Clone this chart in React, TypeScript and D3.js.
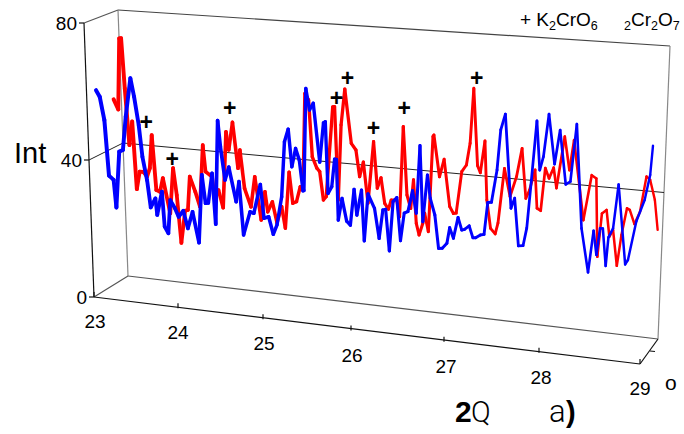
import React from "react";
import * as d3 from "d3";

const blueAngle = [23.00,23.04,23.09,23.14,23.19,23.22,23.25,23.29,23.32,23.37,23.41,23.46,23.50,23.55,23.59,23.64,23.66,23.71,23.74,23.78,23.80,23.85,23.89,23.94,23.99,24.04,24.11,24.14,24.18,24.21,24.25,24.29,24.31,24.34,24.39,24.43,24.51,24.54,24.59,24.66,24.70,24.77,24.81,24.86,24.91,24.95,25.00,25.03,25.07,25.11,25.15,25.19,25.23,25.24,25.26,25.30,25.34,25.41,25.45,25.47,25.50,25.54,25.57,25.59,25.61,25.65,25.70,25.74,25.78,25.81,25.86,25.89,25.93,26.00,26.05,26.09,26.12,26.16,26.20,26.24,26.28,26.32,26.36,26.41,26.45,26.49,26.52,26.57,26.60,26.65,26.69,26.73,26.78,26.81,26.85,26.90,26.94,26.97,27.02,27.06,27.09,27.14,27.18,27.22,27.26,27.32,27.36,27.41,27.47,27.51,27.55,27.60,27.64,27.69,27.75,27.78,27.82,27.88,27.94,28.00,28.06,28.11,28.18,28.23,28.30,28.36,28.39,28.43,28.46,28.49,28.52,28.57,28.63,28.70,28.73,28.82,28.91,28.97,29.00];
const blueInt = [57.9,56.1,49.4,33.2,32.1,24.1,40.6,41.2,51.1,62.6,57.3,49.1,39.9,33.2,25.3,28.1,23.3,30.3,20.1,18.3,28.1,25.9,23.5,25.4,20.4,25.4,16.6,36.6,28.4,28.6,37.4,22.6,53.1,45.5,35.9,39.8,29.9,35.9,20.4,27.4,27.1,35.8,26,26.6,21.6,24.5,32.9,49.2,53,42.1,47.6,44.3,35.4,35.5,65.6,59.4,61.5,44.4,56.1,56.5,35.5,37.6,45.8,45.8,28,34.5,28,26.9,37.6,30.1,37.6,22.8,36.7,32.7,24,32.5,32.8,20.7,35.3,36.6,24.1,32.3,32.9,39.2,32.7,52.7,30.4,44.3,37.6,32.8,23.1,23.3,24.9,29.6,26.6,32.9,29.3,29.6,30.8,27.4,27.5,28.5,28.8,38.3,38.5,48.2,60.1,64.9,37.4,40.5,26.6,26.8,32.1,46.4,64,49.6,53.7,66.4,51.9,62.1,46.3,47.3,64.4,33.9,21.2,33.6,26.6,34.6,34.6,23.7,32.2,35,48.1,24.8,26.2,37.8,44.4,52,60.7];
const redAngle = [23.19,23.24,23.25,23.27,23.31,23.36,23.39,23.44,23.47,23.51,23.55,23.58,23.60,23.65,23.69,23.72,23.80,23.83,23.87,23.92,23.96,23.99,24.01,24.07,24.12,24.15,24.18,24.25,24.28,24.32,24.37,24.40,24.43,24.47,24.53,24.55,24.60,24.67,24.71,24.78,24.82,24.85,24.90,24.95,25.00,25.04,25.08,25.12,25.16,25.20,25.23,25.25,25.29,25.33,25.38,25.41,25.45,25.48,25.55,25.57,25.61,25.64,25.68,25.75,25.80,25.84,25.88,25.93,25.99,26.03,26.07,26.11,26.15,26.18,26.24,26.27,26.31,26.35,26.39,26.42,26.45,26.48,26.52,26.54,26.58,26.63,26.64,26.70,26.75,26.81,26.85,26.88,26.94,26.99,27.03,27.07,27.11,27.14,27.19,27.21,27.25,27.30,27.33,27.40,27.46,27.53,27.59,27.63,27.67,27.73,27.75,27.79,27.84,27.88,27.93,27.96,28.05,28.10,28.15,28.25,28.34,28.39,28.40,28.45,28.50,28.53,28.57,28.61,28.66,28.72,28.75,28.80,28.86,28.93,28.97,29.02,29.05];
const redInt = [55.8,53,73.9,74,59.4,42.9,49.9,30.2,35.4,35.5,34.2,36.8,46.6,30.6,30.2,34.3,24.2,37.6,29.8,15.9,25.5,25.8,35.7,31.4,27.2,45.4,37.7,36.4,29.7,32.7,27.7,50.1,44.9,53.1,39.8,45.2,34.1,28.9,37.9,25.4,33.8,28,31.1,25.1,30,23.8,40.4,31.4,32,36.5,35.6,64.1,62.3,45.7,42.5,41.6,33.4,34.5,61.1,61.2,33.9,56.1,66.7,51,49.2,41.5,45.9,34,52.3,38.7,41.9,34.5,32.9,35.7,35.9,31.1,57.7,37.7,33.9,42.4,29.7,26.4,29.9,33,27.7,55.8,56.3,44.2,49.5,35.8,33.9,34.1,46.5,48.6,55.1,71.4,48.8,46.8,56.3,39,30.8,29.3,32.6,48.9,40.8,46.9,55.4,40.8,43.4,49.5,38.3,37.7,50.4,47.5,50.8,44.9,60.3,50.6,59.6,36.4,49.9,49.1,26.1,39,40.2,32.4,34.5,24.1,33.3,41.4,41,37,40.8,51.4,50.5,44.8,36.1];
const plusAngle = [23.54,23.82,24.44,25.59,25.71,25.99,26.32,27.10];
const plusInt = [50.2,40.3,57.2,63.9,70.1,56.3,63.2,74.6];
const xTicks = [23,24,25,26,27,28,29];
const yTicks = [0,40,80];

const F = "'Liberation Sans', Arial, sans-serif";
const BLUE = "#0000ff";
const RED = "#ff0000";
const GREY = "#777777";

// front-edge axis of the box
const frontX = d3.scaleLinear().domain(xTicks).range([94,178,263,351,444,539,640]);
const frontY = d3.scaleLinear().domain([23,29]).range([297,364]);
// front-left upright
const leftX = d3.scaleLinear().domain([0,80]).range([94,84]);
const leftY = d3.scaleLinear().domain([0,80]).range([297,23]);
// back wall
const backX = d3.scaleLinear().domain([23,29]).range([128,658]);
const backY = d3.scaleLinear().domain([23,29]).range([276,339]);
const backTopX = d3.scaleLinear().domain([23,29]).range([118,670]);
const backTopY = d3.scaleLinear().domain([23,29]).range([10,46]);
// plane of the two curves
const curveX = d3.scaleLinear().domain([23,29]).range([96,653]);
const curveBase = d3.scaleLinear().domain([23,29]).range([287,352]);
const curveHeight = d3.scaleLinear().domain([0,80]).range([0,272]);
const widthAt = d3.scaleLinear().domain([23,29]).range([4,2.4]);

const px = (t: number) => curveX(t);
const py = (t: number, v: number) => curveBase(t) - curveHeight(v);

function Series({ a, v, color }: { a: number[]; v: number[]; color: string }) {
  const line = d3.line<[number, number]>().x(d => px(d[0])).y(d => py(d[0], d[1]));
  const segs = d3.pairs(a.map((t, i) => [t, v[i]] as [number, number]));
  return (
    <g fill="none" stroke={color} strokeLinejoin="round" strokeLinecap="round">
      {segs.map((s, i) => (
        <path key={i} d={line(s) || ""} strokeWidth={widthAt(s[0][0])} />
      ))}
    </g>
  );
}

function L({ p, stroke = GREY, w = 1.2 }: { p: number[]; stroke?: string; w?: number }) {
  return <line x1={p[0]} y1={p[1]} x2={p[2]} y2={p[3]} stroke={stroke} strokeWidth={w} />;
}

export default function App() {
  const midT = 40;
  const backMid = (t: number) => backY(t) + (backTopY(t) - backY(t)) * (midT / 80);
  const midLeftX = backX(23) + (backTopX(23) - backX(23)) * 0.5;
  const midRightX = backX(29) + (backTopX(29) - backX(29)) * 0.5;
  return (
    <svg width={684} height={434} style={{ position: "absolute", left: 0, top: 0, background: "#fff" }}>
      {/* walls */}
      <L p={[backTopX(23), backTopY(23), backTopX(29), backTopY(29)]} stroke="#444" />
      <L p={[backX(23), backY(23), backX(29), backY(29)]} stroke="#555" />
      <L p={[backTopX(23), backTopY(23), backX(23), backY(23)]} stroke="#888" />
      <L p={[backTopX(29), backTopY(29), backX(29), backY(29)]} stroke="#888" />
      <L p={[leftX(80), leftY(80), backTopX(23), backTopY(23)]} stroke="#555" />
      <L p={[leftX(0), leftY(0), backX(23), backY(23)]} stroke="#555" />
      {/* 40 gridline */}
      <L p={[leftX(40), leftY(40), midLeftX, backMid(23)]} stroke="#222" w={1} />
      <L p={[midLeftX, backMid(23), midRightX, backMid(29)]} stroke="#222" w={1} />
      <Series a={redAngle} v={redInt} color={RED} />
      <Series a={blueAngle} v={blueInt} color={BLUE} />
      {/* axes */}
      <L p={[leftX(80), leftY(80), leftX(0), leftY(0)]} stroke="#111" />
      <L p={[frontX(23), frontY(23), frontX(29), frontY(29)]} stroke="#111" />
      <L p={[frontX(29), frontY(29), backX(29), backY(29)]} stroke="#111" />
      <L p={[655, 351.5, 650, 351]} stroke="#111" />
      {yTicks.map(t => (
        <g key={t}>
          <L p={[leftX(t) - 5, leftY(t), leftX(t), leftY(t)]} stroke="#111" />
          <text x={leftX(t) - 7} y={leftY(t) + 7} textAnchor="end" fontFamily={F} fontSize={19} fill="#000">{t}</text>
        </g>
      ))}
      {xTicks.map((t, i) => (
        <g key={t}>
          <L p={[frontX(t), frontY(t), frontX(t), frontY(t) - 5]} stroke="#111" />
          <text x={frontX(t) + [1, 0, 1, 1, 2, 2, 0][i]} y={frontY(t) + 31} textAnchor="middle" fontFamily={F} fontSize={19} fill="#000">{t}</text>
        </g>
      ))}
      {plusAngle.map((t, i) => (
        <text key={i} x={px(t)} y={py(t, plusInt[i]) + 8} textAnchor="middle" fontFamily={F} fontWeight="bold" fontSize={23} fill="#000">+</text>
      ))}
      <text x={14} y={163} fontFamily={F} fontSize={29} fill="#000">Int</text>
      <text x={665} y={390} fontFamily={F} fontSize={21} fill="#000">o</text>
      <text x={455} y={422} fontFamily={F} fontSize={30} fontWeight="bold" fill="#000">2</text>
      <text x={471} y={422} fontFamily="Roboto, sans-serif" fontSize={29} fontWeight={300} fill="#000">Q</text>
      <text x={549} y={422} fontFamily="Roboto, sans-serif" fontSize={31} fontWeight={300} fill="#000">a</text>
      <text x={566} y={422} fontFamily={F} fontSize={29} fontWeight="bold" fill="#000">)</text>
      <text x={520} y={26} fontFamily={F} fontSize={19} fill="#000">
        + K<tspan fontSize={12.5} dy={4}>2</tspan><tspan dy={-4}>CrO</tspan><tspan fontSize={12.5} dy={4}>6</tspan>
      </text>
      <text x={624} y={26} fontFamily={F} fontSize={19} fill="#000">
        <tspan fontSize={12.5} dy={4}>2</tspan><tspan dy={-4}>Cr</tspan><tspan fontSize={12.5} dy={4}>2</tspan><tspan dy={-4}>O</tspan><tspan fontSize={12.5} dy={4}>7</tspan>
      </text>
    </svg>
  );
}
